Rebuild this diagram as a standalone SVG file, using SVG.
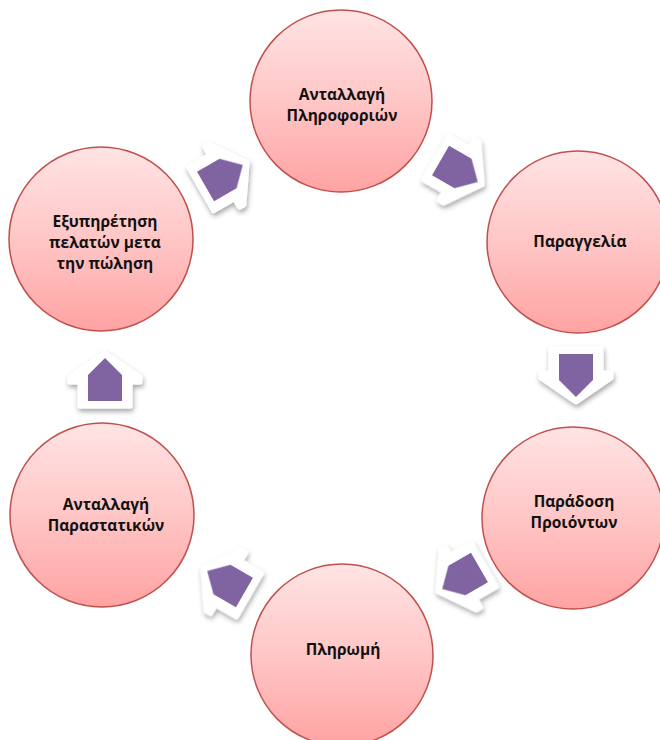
<svg xmlns="http://www.w3.org/2000/svg" width="660" height="740" viewBox="0 0 660 740">
  <defs>
    <linearGradient id="cg" x1="0" y1="0" x2="0" y2="1">
      <stop offset="0" stop-color="#ffe4e4"/>
      <stop offset="0.5" stop-color="#ffc6c6"/>
      <stop offset="1" stop-color="#ffa3a3"/>
    </linearGradient>
    <filter id="sh" x="-30%" y="-30%" width="160%" height="160%">
      <feDropShadow dx="1" dy="3" stdDeviation="2.5" flood-color="#000" flood-opacity="0.35"/>
    </filter>
    <path id="aw" d="M0,-29 L35,-5 L35,0 L25,0 L25,24 L-25,24 L-25,0 L-35,0 L-35,-5 Z"/>
    <path id="ap" d="M0,-24 L17,-7 L17,19 L-17,19 L-17,-7 Z"/>
  </defs>
  <style>
    .node circle { fill: url(#cg); stroke: #c0504d; stroke-width: 1.5; }
    .node text { font-family: "Open Sans", "Liberation Sans", sans-serif; font-weight: bold; font-size: 15.5px; fill: #111; text-anchor: middle; }
    .aw { fill: #fff; stroke: #fff; stroke-width: 5; stroke-linejoin: round; }
    .ap { fill: #8064a2; }
  </style>
  <rect width="660" height="740" fill="#fff"/>

  <g id="n-info" class="node">
    <circle cx="341" cy="101" r="91"/>
    <text x="342" y="100">Ανταλλαγή</text>
    <text x="342" y="121">Πληροφοριών</text>
  </g>
  <g id="n-order" class="node">
    <circle cx="578" cy="242" r="91"/>
    <text x="580" y="247">Παραγγελία</text>
  </g>
  <g id="n-delivery" class="node">
    <circle cx="573" cy="518" r="91"/>
    <text x="574" y="507">Παράδοση</text>
    <text x="574" y="528">Προιόντων</text>
  </g>
  <g id="n-payment" class="node">
    <circle cx="342" cy="655" r="91"/>
    <text x="343" y="655">Πληρωμή</text>
  </g>
  <g id="n-docs" class="node">
    <circle cx="102" cy="515" r="92"/>
    <text x="106" y="510">Ανταλλαγή</text>
    <text x="106" y="531">Παραστατικών</text>
  </g>
  <g id="n-service" class="node">
    <circle cx="101" cy="239" r="92"/>
    <text x="105" y="227">Εξυπηρέτηση</text>
    <text x="105" y="248">πελατών μετα</text>
    <text x="105" y="269">την πώληση</text>
  </g>

  <g id="connectors">
    <g filter="url(#sh)">
      <use href="#aw" class="aw" transform="translate(222,177) rotate(60)"/>
      <use href="#aw" class="aw" transform="translate(457,170) rotate(120)"/>
      <use href="#aw" class="aw" transform="translate(576,373) rotate(180)"/>
      <use href="#aw" class="aw" transform="translate(463,577) rotate(240)"/>
      <use href="#aw" class="aw" transform="translate(228,583) rotate(300)"/>
      <use href="#aw" class="aw" transform="translate(105,382)"/>
    </g>
    <use href="#ap" class="ap" transform="translate(222,177) rotate(60)"/>
    <use href="#ap" class="ap" transform="translate(457,170) rotate(120)"/>
    <use href="#ap" class="ap" transform="translate(576,373) rotate(180)"/>
    <use href="#ap" class="ap" transform="translate(463,577) rotate(240)"/>
    <use href="#ap" class="ap" transform="translate(228,583) rotate(300)"/>
    <use href="#ap" class="ap" transform="translate(105,382)"/>
  </g>
</svg>
